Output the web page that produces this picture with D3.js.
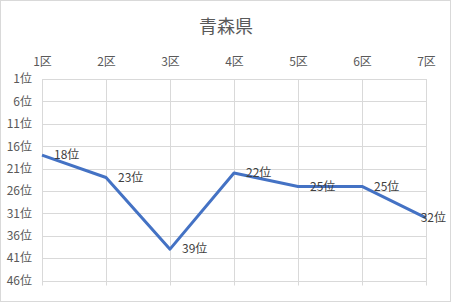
<!DOCTYPE html>
<html>
<head>
<meta charset="utf-8">
<script src="https://cdn.jsdelivr.net/npm/d3@7"></script>
<style>
  html, body { margin: 0; padding: 0; background: #fff; }
  svg { display: block; font-family: "Noto Sans CJK JP", "Noto Sans", sans-serif; }
</style>
</head>
<body>
<svg id="chart" width="452" height="303"></svg>
<script>
// Ward ranking data
const title = "青森県";
const districts = ["1区", "2区", "3区", "4区", "5区", "6区", "7区"];
const ranks = [18, 23, 39, 22, 25, 25, 32];
const rankTicks = [1, 6, 11, 16, 21, 26, 31, 36, 41, 46];

const svg = d3.select("#chart");
const W = 452, H = 303;
const plot = { left: 42, right: 426, top: 79, bottom: 280.5 };

// chart frame
svg.append("rect")
  .attr("x", 0.5).attr("y", 0.5)
  .attr("width", 450).attr("height", 301)
  .attr("fill", "#fff").attr("stroke", "#d9d9d9");

const x = d3.scalePoint().domain(districts).range([plot.left, plot.right]);
const y = d3.scaleLinear().domain([1, 46]).range([plot.top, plot.bottom]);

// horizontal gridlines
svg.append("g")
  .selectAll("line").data(rankTicks).join("line")
  .attr("x1", plot.left).attr("x2", plot.right)
  .attr("y1", d => Math.round(y(d)) + 0.5).attr("y2", d => Math.round(y(d)) + 0.5)
  .attr("stroke", "#d9d9d9").attr("stroke-width", 1);

// vertical gridlines, running a little past the bottom as tick marks
svg.append("g")
  .selectAll("line").data(districts).join("line")
  .attr("x1", d => Math.round(x(d)) + 0.5).attr("x2", d => Math.round(x(d)) + 0.5)
  .attr("y1", plot.top).attr("y2", plot.bottom + 5)
  .attr("stroke", "#d9d9d9").attr("stroke-width", 1);

// title
svg.append("text")
  .attr("x", 226).attr("y", 33)
  .attr("text-anchor", "middle")
  .attr("font-size", 18)
  .attr("fill", "#595959")
  .text(title);

// district axis across the top
const xAxis = svg.append("g")
  .attr("transform", `translate(0,${plot.top - 13})`)
  .call(d3.axisTop(x).tickSize(0).tickPadding(0));
xAxis.select(".domain").remove();
xAxis.selectAll("text")
  .attr("font-size", 12).attr("fill", "#595959")
  .attr("font-family", "Noto Sans CJK JP, sans-serif");

// rank axis on the left
const yAxis = svg.append("g")
  .attr("transform", `translate(${plot.left - 10},0)`)
  .call(d3.axisLeft(y).tickValues(rankTicks).tickSize(0).tickPadding(0)
    .tickFormat(d => d + "位"));
yAxis.select(".domain").remove();
yAxis.selectAll("text")
  .attr("font-size", 12).attr("fill", "#595959")
  .attr("font-family", "Noto Sans CJK JP, sans-serif");

// ranking line
const line = d3.line()
  .x((d, i) => x(districts[i]))
  .y(d => y(d));
svg.append("path")
  .datum(ranks)
  .attr("d", line)
  .attr("fill", "none")
  .attr("stroke", "#4472c4")
  .attr("stroke-width", 3)
  .attr("stroke-linejoin", "round");

// value labels to the right of each point, kept inside the chart frame
const labels = svg.append("g")
  .selectAll("text").data(ranks).join("text")
  .attr("x", (d, i) => x(districts[i]) + 12)
  .attr("y", d => y(d))
  .attr("dy", "0.35em")
  .attr("font-size", 12)
  .attr("fill", "#404040")
  .text(d => d + "位");
labels.each(function (d, i) {
  const w = this.getComputedTextLength();
  const maxX = W - 6 - w;
  const px = x(districts[i]) + 12;
  if (px > maxX) d3.select(this).attr("x", maxX);
});
</script>
</body>
</html>
